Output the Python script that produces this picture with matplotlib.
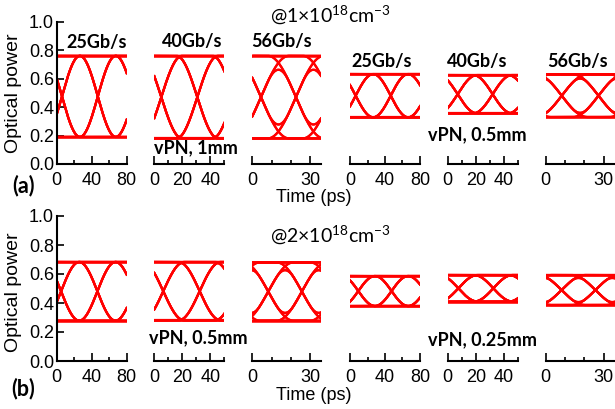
import numpy as np
import matplotlib
matplotlib.use("Agg")
import matplotlib.pyplot as plt
from matplotlib.ticker import MultipleLocator

plt.rcParams['font.family'] = ['Liberation Sans', 'DejaVu Sans']
plt.rcParams['mathtext.fontset'] = 'custom'
plt.rcParams['mathtext.rm'] = 'Lato'

# eye diagram settings per panel: 25, 40, 56 Gb/s for vPN 1mm / 0.5mm (row a)
# and vPN 0.5mm / 0.25mm (row b)
rates = ['25Gb/s', '40Gb/s', '56Gb/s', '25Gb/s', '40Gb/s', '56Gb/s']
spans = [80, 50, 35.7, 80, 50, 35.7]
major_step = [40, 20, 30, 40, 20, 30]
minor_step = [20, 10, 10, 20, 10, 10]

hi_a = [0.76, 0.76, 0.76, 0.632, 0.625, 0.63]
lo_a = [0.19, 0.18, 0.18, 0.328, 0.356, 0.33]
ui_a = [41, 25.7, 18.2, 40, 25, 19]
cross_a = [6, 5, 4.5, 6.5, 7.1, 8.3]
edge_a = [1.0, 1.15, 1.6, 1.0, 1.1, 1.4]

hi_b = [0.683, 0.683, 0.68, 0.586, 0.593, 0.593]
lo_b = [0.278, 0.28, 0.278, 0.379, 0.41, 0.386]
ui_b = [41.5, 26, 17.5, 38, 25, 17.5]
cross_b = [5, 6.4, 8.3, 9.5, 7.6, 8.2]
edge_b = [1.0, 1.15, 1.5, 1.0, 1.1, 1.4]

# test pattern (de Bruijn, order 4)
bits = [0, 0, 0, 0, 1, 0, 0, 1, 1, 0, 1, 0, 1, 1, 1, 1]

W, H = 615, 409
lefts = [56.7, 154.3, 252.3, 350, 447.7, 545.7]
widths = [70, 70, 68.6, 70, 70, 69]


def step(x, w):
    y = 0.5 + 0.5 * np.sin(np.pi * np.clip(x / w, -0.5, 0.5))
    return y


def signal(t, seq, ui, w, lo, hi):
    s = np.full_like(t, float(seq[0]))
    for k in range(1, len(seq)):
        d = seq[k] - seq[k - 1]
        if d:
            s += d * step(t - k * ui, w)
    return lo + (hi - lo) * s


def draw_eye(ax, span, ui, t0, edge, lo, hi):
    seq = bits * 3
    n = len(bits)
    tau = np.linspace(0, span, 300)
    for k in range(n, 2 * n):
        t = k * ui - t0 + tau
        ax.plot(tau, signal(t, seq, ui, edge * ui, lo, hi), color='#ff0000', lw=1.6, clip_on=True)
    ax.plot([0, span], [hi, hi], color='#ff0000', lw=1.8)
    ax.plot([0, span], [lo, lo], color='#ff0000', lw=1.8)


fig = plt.figure(figsize=(6.15, 4.09), dpi=100)


def px(x, y):
    return x / W, 1 - y / H


rows = [
    (164, 142.3, hi_a, lo_a, ui_a, cross_a, edge_a),
    (361, 145.0, hi_b, lo_b, ui_b, cross_b, edge_b),
]

for r, (ybot, hpx, hi, lo, ui, cross, edge) in enumerate(rows):
    for i in range(6):
        ax = fig.add_axes([lefts[i] / W, (H - ybot) / H, widths[i] / W, hpx / H])
        ax.set_xlim(0, spans[i])
        ax.set_ylim(0, 1.0)
        draw_eye(ax, spans[i], ui[i], cross[i], edge[i], lo[i], hi[i])
        ax.patch.set_alpha(0)
        for side in ['top', 'right']:
            ax.spines[side].set_visible(False)
        ax.spines['bottom'].set_linewidth(1.5)
        ax.spines['left'].set_linewidth(1.5)
        ax.xaxis.set_major_locator(MultipleLocator(major_step[i]))
        ax.xaxis.set_minor_locator(MultipleLocator(minor_step[i]))
        ax.tick_params(axis='x', which='major', direction='in', length=5.5, width=1.2,
                       labelsize=13, pad=6)
        ax.tick_params(axis='x', which='minor', direction='in', length=3, width=1.2)
        if i == 0:
            ax.set_yticks(np.arange(0, 1.01, 0.2))
            ax.set_yticklabels(['%.1f' % v for v in np.arange(0, 1.01, 0.2)])
            ax.tick_params(axis='y', direction='in', length=5, width=1.2,
                           labelsize=13, pad=2)
        else:
            ax.spines['left'].set_visible(False)
            ax.set_yticks([])

bold = dict(family=['Lato', 'DejaVu Sans'], fontweight='bold', fontsize=13,
            ha='center', va='center')

# rate labels over the row (a) eyes
rate_pos = [(96.5, 42.7), (192, 42), (281, 41.7), (382, 61.7), (477, 61.7), (577.5, 61)]
for lab, (x, y) in zip(rates, rate_pos):
    fig.text(*px(x, y), lab, **bold)

fig.text(*px(195.5, 148), 'vPN, 1mm', **bold)
fig.text(*px(477.5, 135), 'vPN, 0.5mm', **bold)
fig.text(*px(198, 338), 'vPN, 0.5mm', **bold)
fig.text(*px(482.5, 340), 'vPN, 0.25mm', **bold)

fig.text(*px(23.5, 186), '(a)', **dict(bold, fontsize=15.5))
fig.text(*px(23.5, 389), '(b)', **dict(bold, fontsize=15.5))

fig.text(*px(330.5, 15), r'@1$\times$10$^{18}$cm$^{-3}$', family='Lato', fontsize=14,
         ha='center', va='center')
fig.text(*px(330.5, 235), r'@2$\times$10$^{18}$cm$^{-3}$', family='Lato', fontsize=14,
         ha='center', va='center')

for y in (198, 395):
    fig.text(*px(314, y), 'Time (ps)', fontsize=13, ha='center', va='center')
for y in (93, 292):
    fig.text(*px(14, y), 'Optical power', fontsize=14, rotation=90, ha='center', va='center')

fig.savefig('out.png', dpi=100)
